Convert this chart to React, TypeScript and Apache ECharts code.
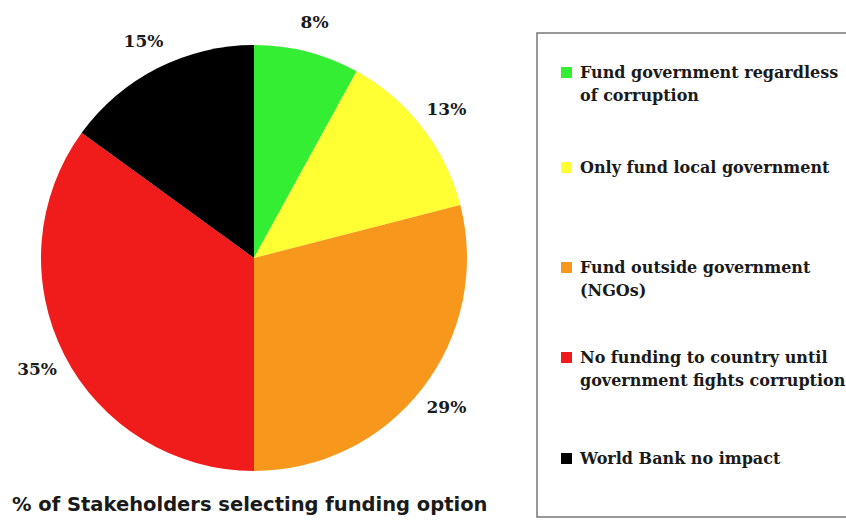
import React, { useEffect, useRef } from 'react';
import * as echarts from 'echarts';

const categories = [
  'Fund government regardless of corruption',
  'Only fund local government',
  'Fund outside government (NGOs)',
  'No funding to country until government fights corruption',
  'World Bank no impact',
];
const legendLines = [
  ['Fund government regardless', 'of corruption'],
  ['Only fund local government'],
  ['Fund outside government', '(NGOs)'],
  ['No funding to country until', 'government fights corruption'],
  ['World Bank no impact'],
];
const legendTops = [61, 156, 256, 346, 447];
const values = [8, 13, 29, 35, 15];
const colors = ['#33ee33', '#ffff33', '#f7981d', '#f01c1c', '#000000'];
const chartTitle = '% of Stakeholders selecting funding option';

export default function App() {
  const ref = useRef<HTMLDivElement>(null);
  useEffect(() => {
    if (!ref.current) return;
    const chart = echarts.init(ref.current, undefined, { renderer: 'svg' });
    const rich: Record<string, any> = {
      t: { fontFamily: 'DejaVu Serif', fontWeight: 'bold', fontSize: 16, color: '#1a1a1a', padding: [0, 0, 0, 8], lineHeight: 23 },
      sp: { width: 11, height: 11 },
    };
    colors.forEach((c, i) => {
      rich['s' + i] = { width: 11, height: 11, backgroundColor: c };
    });
    const legends = categories.map((name, i) => ({
      orient: 'vertical',
      left: 556,
      top: legendTops[i],
      padding: 0,
      itemWidth: 0,
      itemHeight: 0,
      selectedMode: false,
      data: [name],
      formatter: (n: string) => {
        const k = categories.indexOf(n);
        return legendLines[k]
          .map((l, j) => (j === 0 ? `{s${k}|}` : '{sp|}') + `{t|${l}}`)
          .join('\n');
      },
      textStyle: { rich, lineHeight: 23 },
    }));
    chart.setOption({
      animation: false,
      backgroundColor: '#ffffff',
      title: {
        text: chartTitle,
        left: 12,
        top: 494,
        padding: 0,
        textStyle: { fontFamily: 'DejaVu Sans', fontWeight: 'bold', fontSize: 19.5, color: '#1a1a1a' },
      },
      graphic: [
        {
          type: 'rect',
          shape: { x: 537, y: 33, width: 330, height: 484 },
          style: { fill: 'none', stroke: '#777777', lineWidth: 1.5 },
          silent: true,
        },
      ],
      legend: legends,
      series: [
        {
          type: 'pie',
          center: [254, 258],
          radius: 213,
          startAngle: 90,
          clockwise: true,
          silent: true,
          label: { show: false },
          labelLine: { show: false },
          emphasis: { disabled: true },
          data: categories.map((n, i) => ({ name: n, value: values[i], itemStyle: { color: colors[i] } })),
        },
        {
          type: 'pie',
          center: [254, 258],
          radius: [213, 268],
          startAngle: 90,
          clockwise: true,
          silent: true,
          itemStyle: { color: 'rgba(0,0,0,0)' },
          emphasis: { disabled: true },
          labelLine: { show: false },
          label: {
            show: true,
            position: 'inside',
            formatter: '{c}%',
            fontFamily: 'DejaVu Serif',
            fontWeight: 'bold',
            fontSize: 17,
            color: '#1a1a1a',
          },
          data: categories.map((n, i) => ({ name: 'lbl' + i, value: values[i] })),
        },
      ],
    });
    return () => chart.dispose();
  }, []);
  return <div ref={ref} style={{ position: 'fixed', left: 0, top: 0, width: 846, height: 520 }} />;
}
